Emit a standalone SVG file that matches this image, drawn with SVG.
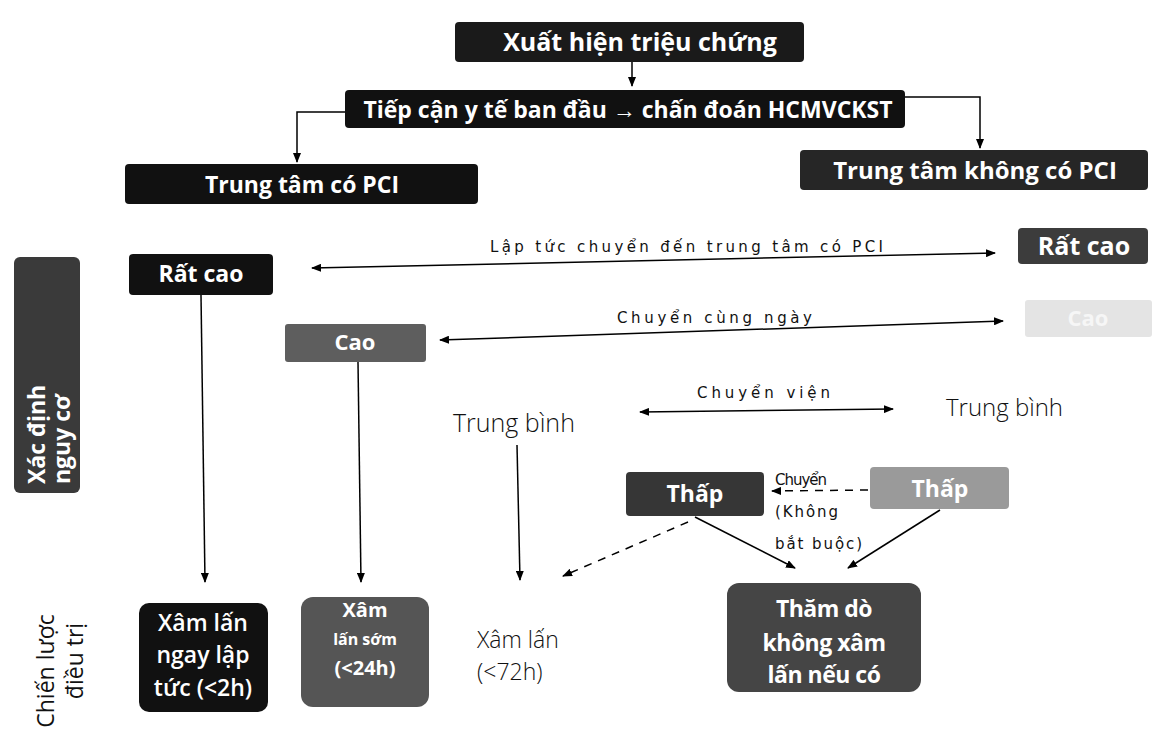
<svg xmlns="http://www.w3.org/2000/svg" width="1155" height="739" viewBox="0 0 1155 739">
<defs>
<marker id="ah" viewBox="0 0 10 8" refX="9" refY="4" markerWidth="10" markerHeight="8" markerUnits="userSpaceOnUse" orient="auto-start-reverse">
<path d="M0,0 L10,4 L0,8 z" fill="#000"/>
</marker>
<style>
.bx{stroke:none}
.wt{fill:#fff;font-family:"Open Sans","Liberation Sans",sans-serif;font-weight:700;text-anchor:middle}
.lt{fill:#111;font-family:"Open Sans","Liberation Sans",sans-serif;font-weight:300}
.cl{fill:#111;font-family:"DejaVu Sans","Liberation Sans",sans-serif;font-size:15px}
.ln{stroke:#000;stroke-width:1.5;fill:none}
.ar{marker-end:url(#ah)}
.da{stroke-dasharray:8 7}
</style>
</defs>
<rect width="1155" height="739" fill="#fff"/>

<g id="n-xuat-hien">
<rect class="bx" x="455" y="22" width="349" height="40" rx="4" fill="#1a1a1a"/>
<text class="wt" x="640" y="51" font-size="25">Xuất hiện triệu chứng</text>
</g>
<g id="n-tiep-can">
<rect class="bx" x="345" y="90" width="560" height="38" rx="4" fill="#111"/>
<text class="wt" x="628" y="118" font-size="23">Tiếp cận y tế ban đầu → chấn đoán HCMVCKST</text>
</g>
<g id="n-co-pci">
<rect class="bx" x="125" y="164" width="353" height="40" rx="4" fill="#111"/>
<text class="wt" x="302" y="193" font-size="23">Trung tâm có PCI</text>
</g>
<g id="n-khong-pci">
<rect class="bx" x="800" y="150" width="348" height="40" rx="4" fill="#262626"/>
<text class="wt" x="975" y="179" font-size="24">Trung tâm không có PCI</text>
</g>
<g id="n-xac-dinh">
<rect class="bx" x="14" y="257" width="66" height="236" rx="6" fill="#3a3a3a"/>
<text class="wt" font-size="23" transform="translate(45,484) rotate(-90)" style="text-anchor:start">Xác định</text>
<text class="wt" font-size="23" transform="translate(70,484) rotate(-90)" style="text-anchor:start">nguy cơ</text>
</g>
<g id="n-chien-luoc">
<text class="lt" font-size="23" transform="translate(54,671) rotate(-90)" style="font-weight:400;text-anchor:middle">Chiến lược</text>
<text class="lt" font-size="23" transform="translate(83,661) rotate(-90)" style="font-weight:400;text-anchor:middle">điều trị</text>
</g>
<g id="n-rat-cao-l">
<rect class="bx" x="129" y="254" width="144" height="41" rx="4" fill="#111"/>
<text class="wt" x="201" y="282" font-size="23">Rất cao</text>
</g>
<g id="n-rat-cao-r">
<rect class="bx" x="1018" y="228" width="130" height="36" rx="4" fill="#3c3c3c"/>
<text class="wt" x="1084" y="255" font-size="25">Rất cao</text>
</g>
<g id="n-cao-l">
<rect class="bx" x="285" y="324" width="141" height="38" rx="3" fill="#5e5e5e"/>
<text class="wt" x="355" y="350" font-size="22">Cao</text>
</g>
<g id="n-cao-r">
<rect class="bx" x="1025" y="300" width="127" height="37" rx="3" fill="#e4e4e4"/>
<text class="wt" x="1088" y="326" font-size="22" style="fill:#f6f6f6">Cao</text>
</g>
<g id="n-tb-l">
<text class="lt" x="453" y="432" font-size="25">Trung bình</text>
</g>
<g id="n-tb-r">
<text class="lt" x="946" y="416" font-size="24">Trung bình</text>
</g>
<g id="n-thap-l">
<rect class="bx" x="626" y="472" width="138" height="44" rx="4" fill="#363636"/>
<text class="wt" x="695" y="502" font-size="23">Thấp</text>
</g>
<g id="n-thap-r">
<rect class="bx" x="870" y="467" width="139" height="42" rx="4" fill="#9a9a9a"/>
<text class="wt" x="940" y="497" font-size="23">Thấp</text>
</g>
<g id="n-xl-ngay">
<rect class="bx" x="139" y="603" width="129" height="109" rx="10" fill="#111"/>
<text class="wt" x="203" y="631" font-size="23" style="font-weight:600">Xâm lấn</text>
<text class="wt" x="203" y="663" font-size="23" style="font-weight:600">ngay lập</text>
<text class="wt" x="203" y="696" font-size="23" style="font-weight:600">tức (&lt;2h)</text>
</g>
<g id="n-xl-som">
<rect class="bx" x="301" y="597" width="128" height="110" rx="12" fill="#555"/>
<text class="wt" x="365" y="617" font-size="20">Xâm</text>
<text class="wt" x="365" y="645" font-size="16">lấn  sớm</text>
<text class="wt" x="365" y="675" font-size="20">(&lt;24h)</text>
</g>
<g id="n-xl-72">
<text class="lt" x="477" y="648" font-size="23">Xâm lấn</text>
<text class="lt" x="477" y="680" font-size="23">(&lt;72h)</text>
</g>
<g id="n-tham-do">
<rect class="bx" x="727" y="583" width="194" height="109" rx="12" fill="#454545"/>
<text class="wt" x="824" y="617" font-size="23" letter-spacing="-0.5">Thăm dò</text>
<text class="wt" x="824" y="651" font-size="23" letter-spacing="-0.5">không xâm</text>
<text class="wt" x="824" y="683" font-size="23" letter-spacing="-0.5">lấn nếu có</text>
</g>

<g id="connectors">
<line class="ln ar" x1="632" y1="62" x2="632" y2="86"/>
<polyline class="ln ar" points="345,112 297,112 297,162"/>
<polyline class="ln ar" points="905,97 980,97 980,148"/>
<line class="ln ar" x1="201" y1="295" x2="205" y2="582"/>
<line class="ln ar" x1="358" y1="362" x2="361" y2="582"/>
<line class="ln ar" x1="517" y1="445" x2="520" y2="580"/>
<line class="ln" x1="312" y1="268" x2="995" y2="253" marker-start="url(#ah)" marker-end="url(#ah)"/>
<text class="cl" x="490" y="252" textLength="393" lengthAdjust="spacing">Lập tức chuyển đến trung tâm có PCI</text>
<line class="ln" x1="440" y1="340" x2="1003" y2="321" marker-start="url(#ah)" marker-end="url(#ah)"/>
<text class="cl" x="617" y="323" textLength="195" lengthAdjust="spacing">Chuyển cùng ngày</text>
<line class="ln" x1="640" y1="412" x2="893" y2="409" marker-start="url(#ah)" marker-end="url(#ah)"/>
<text class="cl" x="697" y="398" textLength="133" lengthAdjust="spacing">Chuyển viện</text>
<line class="ln ar da" x1="868" y1="490" x2="772" y2="491"/>
<text class="cl" x="775" y="485" font-size="13" textLength="52" lengthAdjust="spacing">Chuyển</text>
<text class="cl" x="775" y="517" font-size="13" textLength="63" lengthAdjust="spacing">(Không</text>
<text class="cl" x="775" y="549" font-size="13" textLength="87" lengthAdjust="spacing">bắt buộc)</text>
<line class="ln ar" x1="695" y1="517" x2="795" y2="568"/>
<line class="ln ar" x1="940" y1="510" x2="848" y2="568"/>
<line class="ln ar da" x1="688" y1="522" x2="563" y2="576"/>
</g>
</svg>
